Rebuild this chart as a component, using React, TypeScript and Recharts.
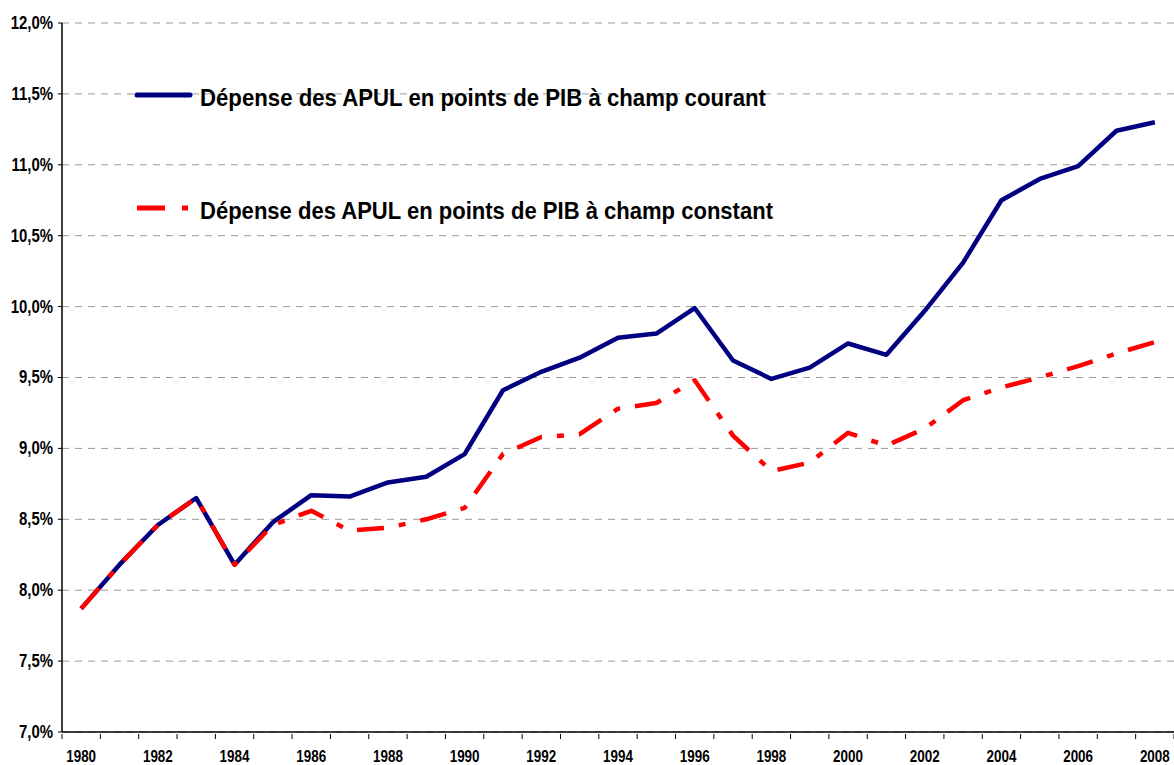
import React from "react";
import { CartesianGrid, Legend, Line, LineChart, XAxis, YAxis } from "recharts";

document.body.style.margin = "0";

const years = [
  1980, 1981, 1982, 1983, 1984, 1985, 1986, 1987, 1988, 1989, 1990, 1991, 1992, 1993, 1994,
  1995, 1996, 1997, 1998, 1999, 2000, 2001, 2002, 2003, 2004, 2005, 2006, 2007, 2008,
];

// dépense des APUL, points de PIB
const champCourant = [
  7.87, 8.18, 8.46, 8.65, 8.18, 8.48, 8.67, 8.66, 8.76, 8.8, 8.96, 9.41, 9.54, 9.64, 9.78,
  9.81, 9.99, 9.62, 9.49, 9.57, 9.74, 9.66, 9.97, 10.31, 10.75, 10.9, 10.99, 11.24, 11.3,
];
const champConstant = [
  7.87, 8.18, 8.46, 8.65, 8.18, 8.46, 8.56, 8.42, 8.44, 8.5, 8.58, 8.96, 9.08, 9.1, 9.28,
  9.32, 9.48, 9.09, 8.84, 8.9, 9.11, 9.02, 9.14, 9.34, 9.43, 9.5, 9.58, 9.67, 9.75,
];

const yTicks = [7, 7.5, 8, 8.5, 9, 9.5, 10, 10.5, 11, 11.5, 12];
const labelYears = years.filter((y) => y % 2 === 0);

const BLUE = "#000080";
const RED = "#FF0000";
const FONT = '"Liberation Sans", Arial, sans-serif';

const series = [
  { key: "courant", name: "Dépense des APUL en points de PIB à champ courant", color: BLUE, dash: undefined, textWidth: 566 },
  { key: "constant", name: "Dépense des APUL en points de PIB à champ constant", color: RED, dash: "27 15 7 15", textWidth: 573 },
];

const data = years.map((year, i) => ({
  year,
  courant: champCourant[i],
  constant: champConstant[i],
}));

// tick marks sit on category boundaries, labels on even years
const xTicks = [...years.map((y) => y - 0.5), years[years.length - 1] + 0.5, ...labelYears].sort(
  (a, b) => a - b
);

function XTick({ x, y, payload }: any) {
  const v = payload.value as number;
  if (v % 1 !== 0) {
    return <line x1={x} x2={x} y1={y} y2={y + 5} stroke="#000" strokeWidth={1} />;
  }
  const ty = y + 28;
  return (
    <text
      x={x}
      y={ty}
      textAnchor="middle"
      fontFamily={FONT}
      fontWeight="bold"
      fontSize={16}
      fill="#000"
      transform={`translate(${x},${ty}) scale(0.84,1) translate(${-x},${-ty})`}
    >
      {v}
    </text>
  );
}

function YTick({ x, y, payload }: any) {
  const ty = y + 6;
  return (
    <text
      x={x}
      y={ty}
      textAnchor="end"
      fontFamily={FONT}
      fontWeight="bold"
      fontSize={18}
      fill="#000"
      transform={`translate(${x},${ty}) scale(0.83,1) translate(${-x},${-ty})`}
    >
      {payload.value.toFixed(1).replace(".", ",") + "%"}
    </text>
  );
}

function LegendBox() {
  const rows = [95, 208];
  return (
    <svg width={1174} height={240} style={{ display: "block" }}>
      {series.map((s, i) => (
        <g key={s.key}>
          <line
            x1={137}
            x2={190}
            y1={rows[i]}
            y2={rows[i]}
            stroke={s.color}
            strokeWidth={5}
            strokeLinecap={s.dash ? "butt" : "round"}
            strokeDasharray={s.dash ? "28 17 6 40" : undefined}
          />
          <text
            x={200}
            y={rows[i] + 11}
            fontFamily={FONT}
            fontWeight="bold"
            fontSize={23}
            fill="#000"
            textLength={s.textWidth}
            lengthAdjust="spacingAndGlyphs"
          >
            {s.name}
          </text>
        </g>
      ))}
    </svg>
  );
}

export default function App() {
  return (
    <div style={{ width: 1174, height: 765, background: "#fff" }}>
      <LineChart width={1174} height={765} data={data} margin={{ top: 23, right: 0, bottom: 0, left: 0 }}>
        <CartesianGrid horizontal vertical={false} stroke="#999" strokeDasharray="7 6" />
        <XAxis
          dataKey="year"
          type="number"
          domain={[1979.5, 2008.5]}
          ticks={xTicks}
          interval={0}
          height={33}
          tickSize={0}
          tickLine={false}
          axisLine={{ stroke: "#000", strokeWidth: 1.5 }}
          tick={<XTick />}
        />
        <YAxis
          type="number"
          domain={[7, 12]}
          ticks={yTicks}
          interval={0}
          width={62}
          tickSize={4}
          tickMargin={5}
          tickLine={{ stroke: "#000" }}
          axisLine={{ stroke: "#000", strokeWidth: 1.5 }}
          tick={<YTick />}
        />
        <Legend
          layout="horizontal"
          verticalAlign="middle"
          align="center"
          wrapperStyle={{ top: 0, left: 0, width: 1174, height: 240 }}
          content={<LegendBox />}
        />
        {series.map((s) => (
          <Line
            key={s.key}
            type="linear"
            dataKey={s.key}
            name={s.name}
            stroke={s.color}
            strokeWidth={4.5}
            strokeDasharray={s.dash}
            strokeLinejoin="round"
            dot={false}
            activeDot={false}
            isAnimationActive={false}
          />
        ))}
      </LineChart>
    </div>
  );
}
